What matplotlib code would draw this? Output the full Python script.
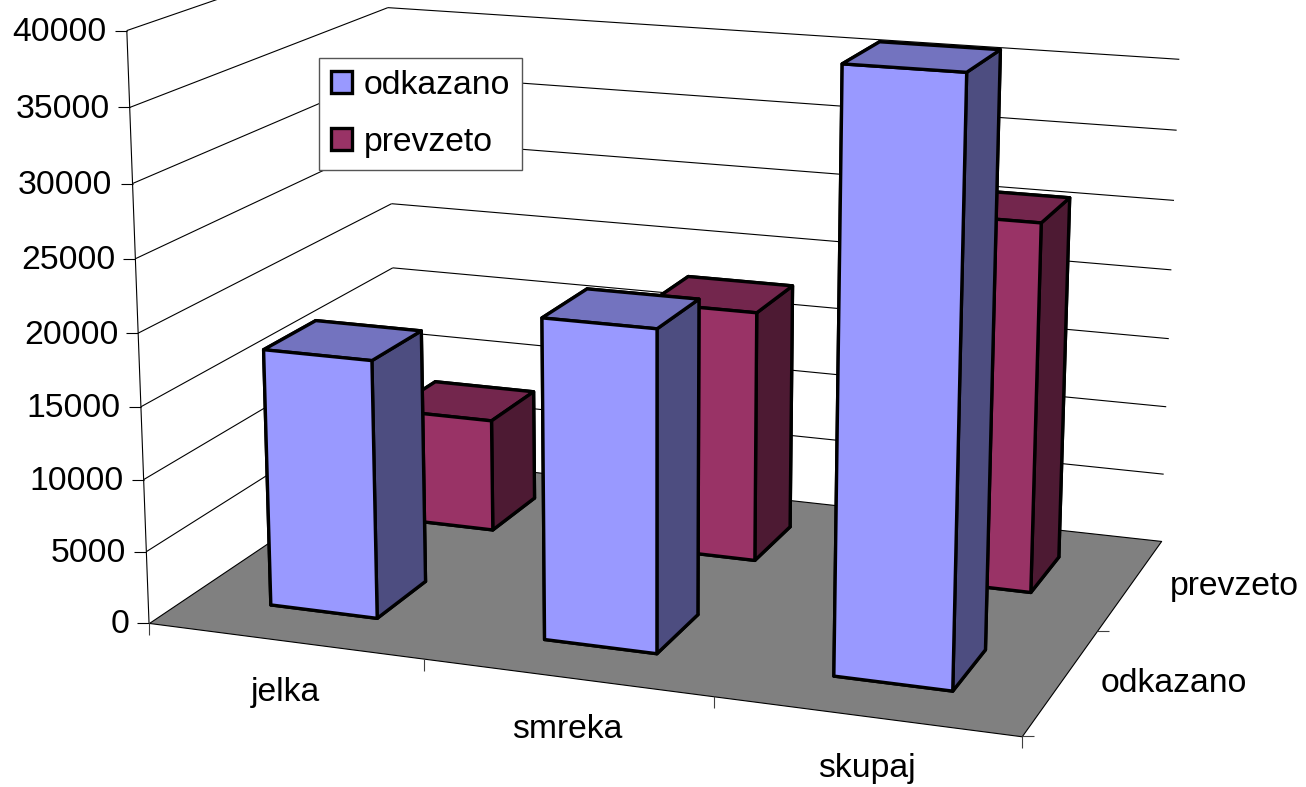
import numpy as np
import matplotlib
matplotlib.use('Agg')
import matplotlib.pyplot as plt
from matplotlib.patches import Patch
from matplotlib.markers import TICKLEFT, TICKRIGHT, TICKDOWN
from mpl_toolkits.mplot3d.art3d import Poly3DCollection, Line3DCollection

plt.rcParams['font.family'] = ['Liberation Sans', 'DejaVu Sans']

# Data
categories = ['jelka', 'smreka', 'skupaj']
series_names = ['odkazano', 'prevzeto']
odkazano = [17900, 21900, 39800]
prevzeto = [8200, 18000, 26000]
value_ticks = [0, 5000, 10000, 15000, 20000, 25000, 30000, 35000, 40000]

# Face colours: bottom, top, front, back, left, right
blue_faces = ['#9999FF', '#7373BF', '#9999FF', '#9999FF', '#4D4D80', '#4D4D80']
red_faces = ['#993366', '#73264D', '#993366', '#993366', '#4D1A33', '#4D1A33']

W, H = 1306, 787
BAR_W = 0.395
BAR_D = 0.40
FONT = 24.3
X_MAX, Y_MAX, Z_MAX = len(categories), len(series_names), value_ticks[-1]

# Camera: where the corners of the chart box sit in the picture (x, y, z, px, py)
anchors = np.array([
    [0, 0, 0, 150, 620],
    [0, 0, 40000, 125, 32],
    [1, 0, 0, 424, 657],
    [2, 0, 0, 714, 697],
    [3, 0, 0, 1021, 739],
    [3, 1, 0, 1099, 631],
    [3, 2, 0, 1160, 538],
    [3, 2, 35000, 1179, 60],
    [0, 2, 0, 395, 462],
    [0, 2, 15000, 392, 267],
    [0, 2, 20000, 392, 202],
    [0, 2, 35000, 390, 7],
], dtype=float)


def fit_camera(points):
    # Direct linear transform, 3D data -> display pixels
    scale = np.diag([1 / X_MAX, 1 / Y_MAX, 1 / Z_MAX, 1.0])
    rows = []
    for x, y, z, px, py in points:
        p = scale @ np.array([x, y, z, 1.0])
        u, v = px / 1000, (H - py) / 1000
        rows.append(np.r_[p, np.zeros(4), -u * p])
        rows.append(np.r_[np.zeros(4), p, -v * p])
    vh = np.linalg.svd(np.array(rows))[2]
    cam = vh[-1].reshape(3, 4)
    cam = np.diag([1000, 1000, 1.0]) @ cam @ scale
    centre = np.array([X_MAX / 2, Y_MAX / 2, Z_MAX / 2, 1.0])
    return cam / (cam[2] @ centre)


camera = fit_camera(anchors)

fig = plt.figure(figsize=(W / 100, H / 100), dpi=100)
# Axes3D is always square, so make it as wide as the figure
ax = fig.add_axes([0, (H - W) / 2 / H, 1, W / H], projection='3d', computed_zorder=False)
ax.set_axis_off()


def chart_proj():
    to_2d = np.linalg.inv(ax.transData.get_affine().get_matrix())
    h = to_2d @ camera
    depth = h[2] - np.array([0, 0, 0, 1.0])
    return np.vstack([h[0], h[1], depth, h[2]])


ax.get_proj = chart_proj

# Floor
floor = Poly3DCollection([[(0, 0, 0), (X_MAX, 0, 0), (X_MAX, Y_MAX, 0), (0, Y_MAX, 0)]],
                         facecolor='#808080', edgecolor='black', linewidth=0.8)
floor.set_zorder(0)
ax.add_collection3d(floor)

# Gridlines on the two walls
segments = [[(0, 0, 0), (0, 0, Z_MAX)]]
for v in value_ticks[1:]:
    segments.append([(0, 0, v), (0, Y_MAX, v)])
    segments.append([(0, Y_MAX, v), (X_MAX, Y_MAX, v)])
grid = Line3DCollection(segments, colors='black', linewidths=0.8)
grid.set_zorder(1)
ax.add_collection3d(grid)

# Tick marks
ax.plot([0] * len(value_ticks), [0] * len(value_ticks), value_ticks, ls='none', marker=TICKLEFT,
        ms=8.6, mew=0.8, color='black', zorder=1)
ax.plot(range(X_MAX + 1), [0] * (X_MAX + 1), [0] * (X_MAX + 1), ls='none', marker=TICKDOWN,
        ms=8.6, mew=0.8, color='#404040', zorder=1)
ax.plot([X_MAX] * (Y_MAX + 1), range(Y_MAX + 1), [0] * (Y_MAX + 1), ls='none', marker=TICKRIGHT,
        ms=8.6, mew=0.8, color='#404040', zorder=1)

# Bars, back row first
order = 2
for row, values, faces in [(1, prevzeto, red_faces), (0, odkazano, blue_faces)]:
    for i, val in enumerate(values):
        bar = ax.bar3d(i + 0.5 - BAR_W / 2, row + 0.5 - BAR_D / 2, 0, BAR_W, BAR_D, val,
                       color=faces, shade=False, edgecolor='black', linewidth=2.4)
        bar.set_zorder(order)
    order += 1


def label(x, y, z, text, dx, dy, ha):
    # Plain figure text at the projected position of the data point
    p = camera @ np.array([x, y, z, 1.0])
    fig.text((p[0] / p[2] + dx) / W, (p[1] / p[2] + dy) / H, text, ha=ha, va='center',
             fontsize=FONT, color='black')


for v in value_ticks:
    label(0, 0, v, str(v), -20, -2, 'right')
for i, name in enumerate(categories):
    label(i + 0.5, 0, 0, name, 1, -52, 'center')
for j, name in enumerate(series_names):
    label(X_MAX, j + 0.5, 0, name, 40, -2, 'left')

# Legend
handles = [Patch(facecolor=blue_faces[2], edgecolor='black', linewidth=2.4, label=series_names[0]),
           Patch(facecolor=red_faces[2], edgecolor='black', linewidth=2.4, label=series_names[1])]
ax.legend(handles=handles, loc='upper left', bbox_to_anchor=(319 / W, 1 - 58 / H),
          bbox_transform=fig.transFigure, fontsize=FONT, frameon=True, fancybox=False,
          framealpha=1, edgecolor='#555555', handlelength=0.62, handleheight=0.62,
          handletextpad=0.36, labelspacing=0.78, borderpad=0.35, borderaxespad=0)

fig.savefig('out.png', dpi=100)
